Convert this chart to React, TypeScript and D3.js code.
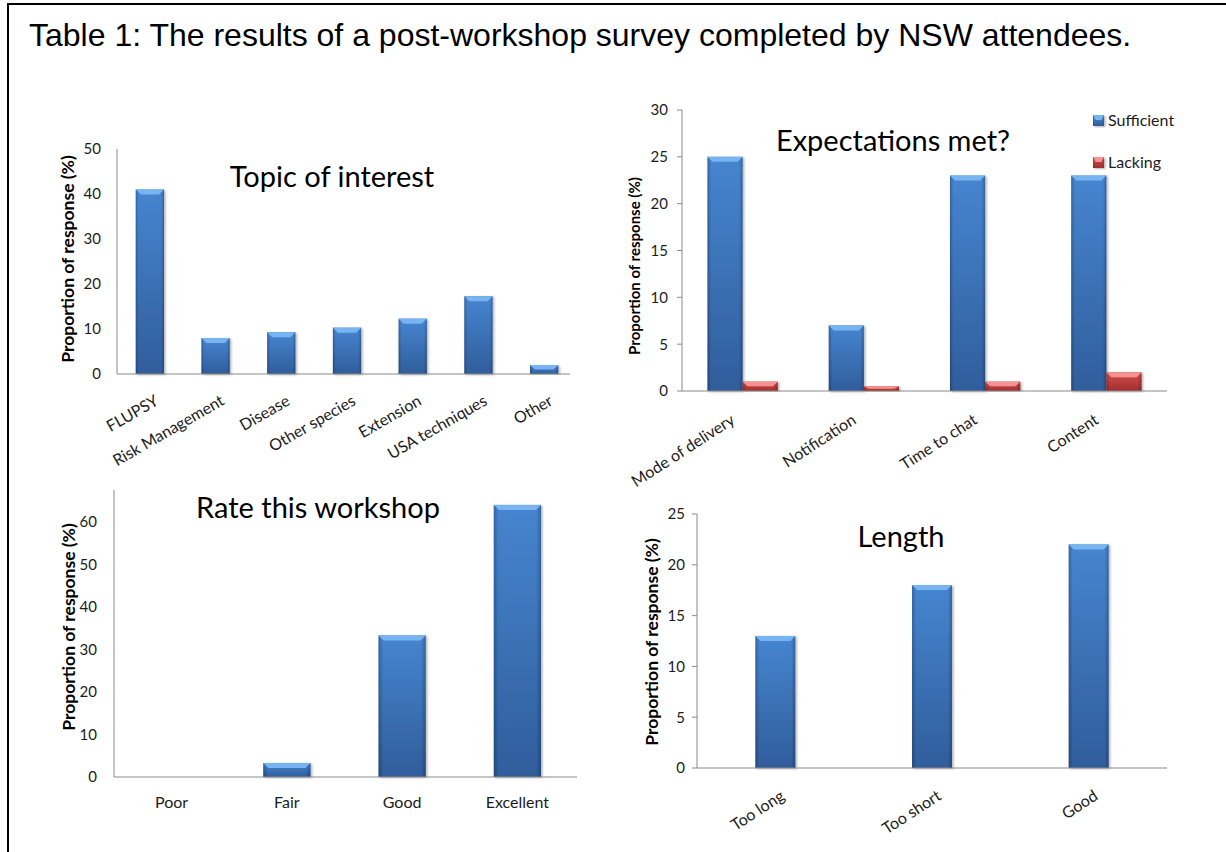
import * as d3 from "d3";
import React, { useRef, useEffect } from "react";

// survey values (percent of responses)
const topicLabels = ["FLUPSY", "Risk Management", "Disease", "Other species", "Extension", "USA techniques", "Other"];
const topicValues = [41, 8, 9.3, 10.3, 12.3, 17.3, 2];
const topicTicks = [0, 10, 20, 30, 40, 50];

const expectLabels = ["Mode of delivery", "Notification", "Time to chat", "Content"];
const sufficientValues = [25, 7, 23, 23];
const lackingValues = [1, 0.5, 1, 2];
const expectTicks = [0, 5, 10, 15, 20, 25, 30];

const rateLabels = ["Poor", "Fair", "Good", "Excellent"];
const rateValues = [0, 3.3, 33.3, 64];
const rateTicks = [0, 10, 20, 30, 40, 50, 60];

const lengthLabels = ["Too long", "Too short", "Good"];
const lengthValues = [13, 18, 22];
const lengthTicks = [0, 5, 10, 15, 20, 25];

const yTitle = "Proportion of response (%)";
const FONT = "Lato, 'Open Sans', sans-serif";

type Tone = "blue" | "red";
interface Series { name: string; values: number[]; tone: Tone; }

interface Panel {
  title: string;
  labels: string[];
  series: Series[];
  ticks: number[];
  yMax: number;
  left: number; right: number; axisEnd: number; top: number; base: number;
  barFrac: number;
  tickGap: number;
  tickMarks: boolean;
  titleX: number; titleY: number;
  yTitleX: number; yTitleY: number; yTitleSize: number;
  angle: number; labelDx: number; labelDy: number;
  legend?: boolean;
}

const panels: Panel[] = [
  {
    title: "Topic of interest", labels: topicLabels,
    series: [{ name: "Topic", values: topicValues, tone: "blue" }],
    ticks: topicTicks, yMax: 50,
    left: 117, right: 577, axisEnd: 570, top: 149, base: 374,
    barFrac: 0.43, tickGap: 16, tickMarks: false,
    titleX: 332, titleY: 187, yTitleX: 68, yTitleY: 259, yTitleSize: 17.5,
    angle: -30, labelDx: 4, labelDy: 20,
  },
  {
    title: "Expectations met?", labels: expectLabels,
    series: [
      { name: "Sufficient", values: sufficientValues, tone: "blue" },
      { name: "Lacking", values: lackingValues, tone: "red" },
    ],
    ticks: expectTicks, yMax: 30,
    left: 682, right: 1167, axisEnd: 1167, top: 110, base: 391,
    barFrac: 0.58, tickGap: 14, tickMarks: true,
    titleX: 893, titleY: 151, yTitleX: 635, yTitleY: 266, yTitleSize: 15,
    angle: -33, labelDx: -13, labelDy: 22, legend: true,
  },
  {
    title: "Rate this workshop", labels: rateLabels,
    series: [{ name: "Rate", values: rateValues, tone: "blue" }],
    ticks: rateTicks, yMax: 67.5,
    left: 114, right: 575, axisEnd: 577, top: 490, base: 777,
    barFrac: 0.41, tickGap: 17, tickMarks: false,
    titleX: 318, titleY: 518, yTitleX: 69, yTitleY: 627, yTitleSize: 17.5,
    angle: 0, labelDx: 0, labelDy: 31,
  },
  {
    title: "Length", labels: lengthLabels,
    series: [{ name: "Length", values: lengthValues, tone: "blue" }],
    ticks: lengthTicks, yMax: 25,
    left: 697, right: 1167, axisEnd: 1167, top: 514, base: 768,
    barFrac: 0.255, tickGap: 12, tickMarks: true,
    titleX: 901, titleY: 547, yTitleX: 652, yTitleY: 642, yTitleSize: 17.5,
    angle: -33, labelDx: 4, labelDy: 21,
  },
];

const tones = {
  blue: { top: "#4a8cdb", bottom: "#3262a3", bevel: "#78b4f2" },
  red: { top: "#e05252", bottom: "#a93131", bevel: "#f59393" },
};

function drawBar(g: d3.Selection<SVGGElement, unknown, null, undefined>, x: number, y: number, w: number, h: number, tone: Tone) {
  if (h <= 0) return;
  const c = tones[tone];
  const bar = g.append("g").attr("filter", "url(#barShadow)");
  bar.append("rect").attr("x", x).attr("y", y).attr("width", w).attr("height", h)
    .attr("fill", `url(#body-${tone})`);
  // darker sides
  bar.append("rect").attr("x", x).attr("y", y).attr("width", w).attr("height", h)
    .attr("fill", "url(#sides)");
  const bh = Math.min(5, h / 2);
  const inset = Math.min(5, w / 4);
  bar.append("polygon")
    .attr("points", `${x},${y} ${x + w},${y} ${x + w - inset},${y + bh} ${x + inset},${y + bh}`)
    .attr("fill", c.bevel);
}

const App: React.FC = () => {
  const svgRef = useRef<SVGSVGElement | null>(null);

  useEffect(() => {
    const svg = d3.select(svgRef.current);
    svg.selectAll("*").remove();

    svg.append("rect").attr("width", 1226).attr("height", 852).attr("fill", "#fff");

    const defs = svg.append("defs");
    (Object.keys(tones) as Tone[]).forEach((t) => {
      const lg = defs.append("linearGradient").attr("id", `body-${t}`)
        .attr("x1", 0).attr("y1", 0).attr("x2", 0).attr("y2", 1);
      lg.append("stop").attr("offset", "0%").attr("stop-color", tones[t].top);
      lg.append("stop").attr("offset", "100%").attr("stop-color", tones[t].bottom);
    });
    const sides = defs.append("linearGradient").attr("id", "sides")
      .attr("x1", 0).attr("y1", 0).attr("x2", 1).attr("y2", 0);
    sides.append("stop").attr("offset", "0%").attr("stop-color", "#000").attr("stop-opacity", 0.28);
    sides.append("stop").attr("offset", "10%").attr("stop-color", "#000").attr("stop-opacity", 0.05);
    sides.append("stop").attr("offset", "90%").attr("stop-color", "#000").attr("stop-opacity", 0.05);
    sides.append("stop").attr("offset", "100%").attr("stop-color", "#000").attr("stop-opacity", 0.28);
    const sh = defs.append("filter").attr("id", "barShadow")
      .attr("x", "-20%").attr("y", "-5%").attr("width", "150%").attr("height", "115%");
    sh.append("feDropShadow").attr("dx", 1.5).attr("dy", 1).attr("stdDeviation", 1.2)
      .attr("flood-color", "#000").attr("flood-opacity", 0.3);

    // page frame
    svg.append("line").attr("x1", 7).attr("x2", 1226).attr("y1", 4).attr("y2", 4)
      .attr("stroke", "#000").attr("stroke-width", 2);
    svg.append("line").attr("x1", 8).attr("x2", 8).attr("y1", 3).attr("y2", 852)
      .attr("stroke", "#000").attr("stroke-width", 2);

    svg.append("text").attr("x", 29).attr("y", 46)
      .style("font-family", "'Liberation Sans', Arial, sans-serif").style("font-size", "32px")
      .attr("fill", "#000")
      .text("Table 1: The results of a post-workshop survey completed by NSW attendees.");

    panels.forEach((p) => {
      const g = svg.append("g");
      const x = d3.scaleBand<string>().domain(p.labels).range([p.left, p.right]);
      const inner = d3.scaleBand<string>().domain(p.series.map((s) => s.name))
        .range([0, x.bandwidth() * p.barFrac]);
      const y = d3.scaleLinear().domain([0, p.yMax]).range([p.base, p.top]);

      // bars
      p.series.forEach((s) => {
        s.values.forEach((v, i) => {
          const gx = (x(p.labels[i]) ?? 0) + (x.bandwidth() * (1 - p.barFrac)) / 2 + (inner(s.name) ?? 0);
          drawBar(g, gx, y(v), inner.bandwidth(), y(0) - y(v), s.tone);
        });
      });

      // axes
      g.append("line").attr("x1", p.left).attr("x2", p.left).attr("y1", y(p.yMax)).attr("y2", p.base)
        .attr("stroke", "#8a8a8a");
      g.append("line").attr("x1", p.left).attr("x2", p.axisEnd).attr("y1", p.base).attr("y2", p.base)
        .attr("stroke", "#8a8a8a");
      if (p.tickMarks) {
        g.selectAll("line.tick").data(p.ticks).enter().append("line")
          .attr("x1", p.left - 5).attr("x2", p.left)
          .attr("y1", (d) => y(d)).attr("y2", (d) => y(d)).attr("stroke", "#8a8a8a");
      }
      g.selectAll("text.ytick").data(p.ticks).enter().append("text")
        .attr("x", p.left - p.tickGap).attr("y", (d) => y(d))
        .attr("dy", "0.36em").attr("text-anchor", "end")
        .style("font-family", FONT).style("font-size", "15px").attr("fill", "#1c1c1c")
        .text((d) => String(d));

      // category labels
      p.labels.forEach((l) => {
        const cx = (x(l) ?? 0) + x.bandwidth() / 2;
        const t = g.append("text")
          .style("font-family", FONT).style("font-size", "16px").attr("fill", "#1c1c1c")
          .text(l);
        if (p.angle === 0) {
          t.attr("x", cx).attr("y", p.base + p.labelDy).attr("text-anchor", "middle");
        } else {
          t.attr("transform", `translate(${cx + p.labelDx},${p.base + p.labelDy}) rotate(${p.angle})`)
            .attr("text-anchor", "end").attr("dy", "0.72em");
        }
      });

      // titles
      g.append("text").attr("x", p.titleX).attr("y", p.titleY).attr("text-anchor", "middle")
        .style("font-family", FONT).style("font-size", "29px").attr("fill", "#000")
        .text(p.title);
      g.append("text")
        .attr("transform", `translate(${p.yTitleX},${p.yTitleY}) rotate(-90)`)
        .attr("text-anchor", "middle").attr("dy", "0.36em")
        .style("font-family", FONT).style("font-size", `${p.yTitleSize}px`).style("font-weight", "bold")
        .attr("fill", "#000")
        .text(yTitle);

      if (p.legend) {
        p.series.forEach((s, i) => {
          const ly = 115 + i * 42;
          drawBar(g, 1093, ly, 11, 11, s.tone);
          g.append("text").attr("x", 1108).attr("y", ly + 11)
            .style("font-family", FONT).style("font-size", "16px").attr("fill", "#1c1c1c")
            .text(s.name);
        });
      }
    });
  }, []);

  return (
    <svg ref={svgRef} width={1226} height={852}
      style={{ position: "absolute", left: 0, top: 0, display: "block" }} />
  );
};

export default App;
